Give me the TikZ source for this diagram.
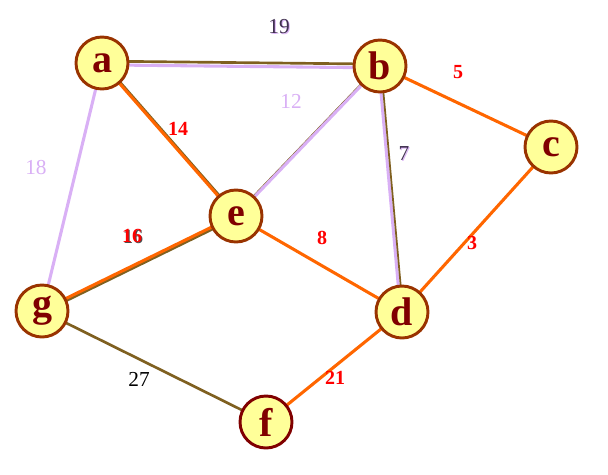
\documentclass[tikz,border=0pt]{standalone}
\usepackage{fontspec}
\setmainfont{Liberation Serif}
\definecolor{olivebr}{HTML}{7F6020}
\definecolor{lav}{HTML}{D9B0F5}
\definecolor{orng}{HTML}{FF6600}
\definecolor{nfill}{HTML}{FFFF99}
\definecolor{nborder}{HTML}{993300}
\definecolor{ntext}{HTML}{800000}
\definecolor{lblred}{HTML}{FF0000}
\definecolor{lbldark}{HTML}{403050}
\begin{document}
\begin{tikzpicture}[x=0.75pt,y=-0.75pt,
  vtx/.style={circle,draw=nborder,line width=2.2pt,fill=nfill,minimum size=39pt,inner sep=0pt,
    font=\fontsize{30}{30}\selectfont\bfseries,text=ntext},
  olv/.style={draw=olivebr,line width=2pt},
  lv/.style={draw=lav,line width=2.3pt},
  og/.style={draw=orng,line width=2.3pt},
  wred/.style={font=\fontsize{15}{15}\selectfont\bfseries,text=lblred},
  wplain/.style={font=\fontsize{16}{16}\selectfont}]
\useasboundingbox (0,0) rectangle (608,475);
% vertex positions
\coordinate (pa) at (102,63);
\coordinate (pb) at (380,66);
\coordinate (pc) at (551,147);
\coordinate (pe) at (236,216);
\coordinate (pg) at (42,311);
\coordinate (pd) at (402,312);
\coordinate (pf) at (266,422);
% edges
\draw[olv,transform canvas={yshift=1.4pt}] (pa) -- (pb);
\draw[lv,transform canvas={yshift=-1.4pt}] (pa) -- (pb);
\draw[olv,transform canvas={xshift=0.9pt}] (pa) -- (pe);
\draw[og,transform canvas={xshift=-0.6pt,yshift=0.4pt}] (pa) -- (pe);
\draw[lv] (pa) -- (pg);
\draw[olv,line width=1pt,transform canvas={xshift=-0.8pt,yshift=0.6pt}] (pb) -- (pe);
\draw[lv] (pb) -- (pe);
\draw[lv,transform canvas={xshift=-1pt}] (pb) -- (pd);
\draw[olv,line width=1.3pt,transform canvas={xshift=0.8pt}] (pb) -- (pd);
\draw[og] (pb) -- (pc);
\draw[og] (pc) -- (pd);
\draw[og] (pe) -- (pd);
\draw[olv,transform canvas={yshift=-1.2pt}] (pe) -- (pg);
\draw[og,transform canvas={yshift=0.6pt}] (pe) -- (pg);
\draw[olv] (pg) -- (pf);
\draw[og] (pd) -- (pf);
% nodes
\node[vtx] (a) at (pa) {a};
\node[vtx] (b) at (pb) {b};
\node[vtx] (c) at (pc) {c};
\node[vtx] (e) at (pe) {e};
\node[vtx] (g) at (pg) {g};
\node[vtx] (d) at (pd) {d};
\node[vtx,draw=ntext] (f) at (pf) {f};
% weights
\node[wplain,text=lav] (w19s) at (280,28) {19};
\node[wplain,text=lbldark] (w19) at (279,27) {19};
\node[wplain,text=lav] (w12) at (291,101) {12};
\node[wplain,text=lav] (w18) at (36,168) {18};
\node[wplain,text=lav] (w7s) at (405,155) {7};
\node[wplain,text=lbldark] (w7) at (404,154) {7};
\node[wred] (w5) at (458,72) {5};
\node[wred] (w14) at (178,129) {14};
\node[wred,text=black!70] (w16s) at (133,237) {16};
\node[wred] (w16) at (132,236) {16};
\node[wred] (w8) at (322,238) {8};
\node[wred] (w3) at (472,243) {3};
\node[wplain,text=black] (w27) at (139,379) {27};
\node[wred] (w21) at (335,378) {21};
\end{tikzpicture}
\end{document}
